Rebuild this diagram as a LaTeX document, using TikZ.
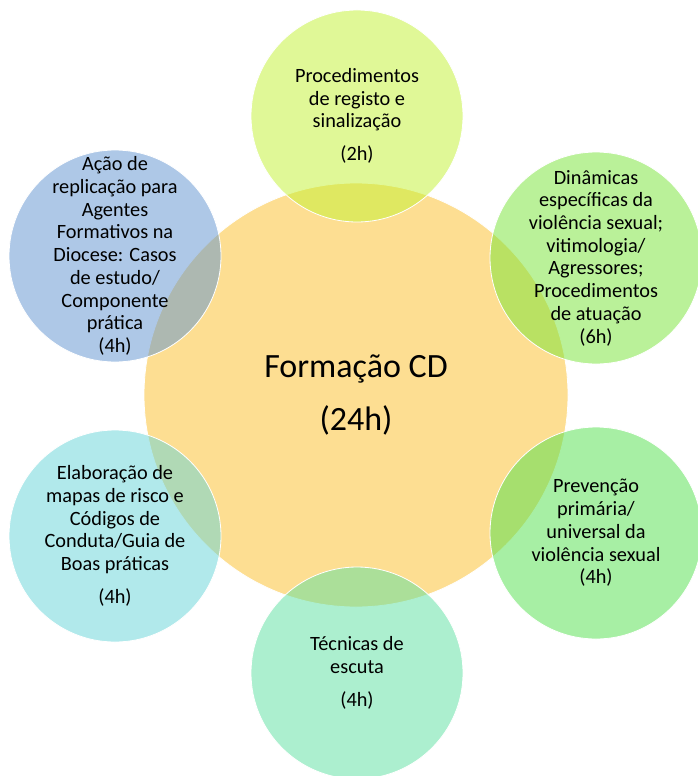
\documentclass[tikz,border=0pt]{standalone}
\usepackage{fontspec}
\setmainfont{Carlito}
\definecolor{cOrange}{RGB}{253,222,146}
\definecolor{cTop}{RGB}{195,243,49}
\definecolor{cUR}{RGB}{119,229,53}
\definecolor{cLR}{RGB}{81,225,75}
\definecolor{cBot}{RGB}{91,225,161}
\definecolor{cLL}{RGB}{101,213,217}
\definecolor{cUL}{RGB}{95,147,209}
\tikzset{
  hub/.style={circle, minimum size=424pt, inner sep=0pt, fill=cOrange, draw=white, line width=0.8pt},
  sat/.style={circle, minimum size=212pt, inner sep=0pt, fill=#1, fill opacity=0.5, draw=white, draw opacity=1, line width=0.8pt},
  lbl/.style={align=center, inner sep=0pt, font=\fontsize{20.3}{22.7}\selectfont, text=black},
  hublbl/.style={align=center, inner sep=0pt, font=\fontsize{34}{53}\selectfont, text=black}
}
\begin{document}
\begin{tikzpicture}[x=1pt,y=-1pt]
\useasboundingbox (0,0) rectangle (697,776);
\fill[white] (0,0) rectangle (697,776);
\node[hub] (hub) at (356,395) {};
\node[sat=cTop] (top) at (357,116) {};
\node[sat=cUR] (ur) at (596,258) {};
\node[sat=cLR] (lr) at (596,533) {};
\node[sat=cBot] (bot) at (357,673) {};
\node[sat=cLL] (ll) at (115,536) {};
\node[sat=cUL] (ul) at (115,256) {};
\node[hublbl] (hubT) at (hub.center) {Formação CD\\(24h)};
\node[lbl] (topT) at (top.center) {Procedimentos\\de registo e\\sinalização\\[10pt](2h)};
\node[lbl] (urT) at (ur.center) {Dinâmicas\\específicas da\\violência sexual;\\vitimologia/\\Agressores;\\Procedimentos\\de atuação\\(6h)};
\node[lbl] (lrT) at (lr.center) {Prevenção\\primária/\\universal da\\violência sexual\\(4h)};
\node[lbl] (botT) at (bot.center) {Técnicas de\\escuta\\[11pt](4h)};
\node[lbl] (llT) at (ll.center) {Elaboração de\\mapas de risco e\\Códigos de\\Conduta/Guia de\\Boas práticas\\[10pt](4h)};
\node[lbl] (ulT) at (ul.center) {Ação de\\replicação para\\Agentes\\Formativos na\\Diocese: Casos\\de estudo/\\Componente\\prática\\(4h)};
\end{tikzpicture}
\end{document}
